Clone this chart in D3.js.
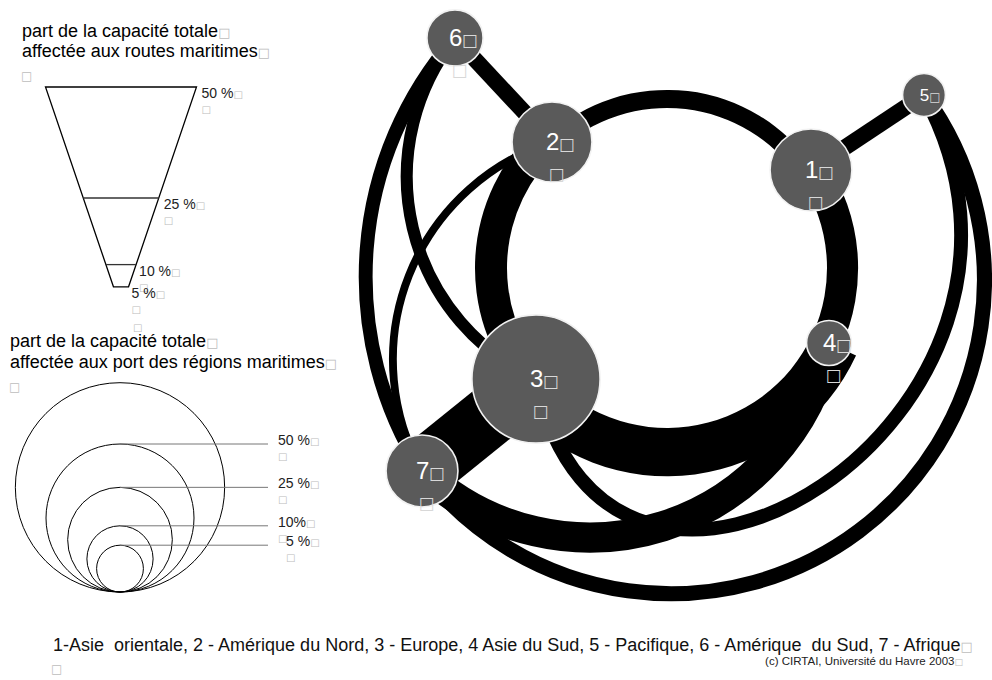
<!DOCTYPE html>
<html>
<head>
<meta charset="utf-8">
<script src="https://cdn.jsdelivr.net/npm/d3@7"></script>
<style>
  body { margin: 0; background: #fff; }
  text { font-family: "Liberation Sans", Arial, sans-serif; white-space: pre; }
  .box { fill: #bdbdbd; font-family: "DejaVu Sans", sans-serif; }
</style>
</head>
<body>
<svg id="chart" width="992" height="680"></svg>
<script>
// regions (ports) : share of the total capacity, in %
var regionIds = [1, 2, 3, 4, 5, 6, 7];
var regionNames = ["Asie  orientale", "Amérique du Nord", "Europe", "Asie du Sud", "Pacifique", "Amérique  du Sud", "Afrique"];
var portShare = [15.3, 14.6, 37.5, 4.6, 4.2, 7.2, 11.8];

// maritime routes : share of the total capacity, in %
var routeFrom  = [2, 1, 4, 3, 6, 1, 3, 7, 6, 6, 2, 7, 3];
var routeTo    = [1, 4, 3, 2, 2, 5, 7, 4, 7, 3, 7, 5, 5];
var routeShare = [6, 10.3, 16, 10.6, 5.3, 5.3, 20, 10, 4.6, 4, 2.6, 5, 4.6];

// legend steps
var routeSteps = [50, 25, 10, 5];
var routeStepLabels = ["50 %", "25 %", "10 %", "5 %"];
var portSteps = [100, 50, 25, 10, 5];
var portStepLabels = [null, "50 %", "25 %", "10%", "5 %"];

// ---- layout (positions of the regions on the sketch, shape of each route)
var nodeXY = {1: [811, 170], 2: [552, 142], 3: [536, 379], 4: [829, 343],
              5: [924, 95], 6: [455, 38], 7: [422, 471]};
var ring = {cx: 667, cy: 268, inner: 160};
var routeShape = {
  "2-1": {type: "ring"}, "1-4": {type: "ring"}, "4-3": {type: "ring"}, "3-2": {type: "ring"},
  "6-2": {type: "line"}, "1-5": {type: "line"}, "3-7": {type: "line"},
  "7-4": {type: "arc", bulge: 125},
  "6-7": {type: "arc", bulge: 72},
  "6-3": {type: "arc", bulge: 85},
  "2-7": {type: "arc", bulge: 84},
  "7-5": {type: "arc", bulge: 310},
  "3-5": {type: "cubic", ctrl: [-0.3, 320, 0.9, 360]}
};

var svg = d3.select("#chart");

var routeWidth = d3.scaleLinear().domain([0, 50]).range([0, 151]);
var portRadius = d3.scaleSqrt().domain([0, 50]).range([0, 74]);

function boxSpan(t, size) {
  t.append("tspan").attr("class", "box").style("font-size", size + "px").text("\u25A1");
}

// ---------- legend 1 : routes
var leg1 = svg.append("g");
leg1.append("text").attr("x", 22).attr("y", 37).style("font-size", "18px").text("part de la capacité totale")
  .call(boxSpan, 13);
leg1.append("text").attr("x", 22).attr("y", 57).style("font-size", "18px").text("affectée aux routes maritimes")
  .call(boxSpan, 13);
leg1.append("text").attr("x", 21).attr("y", 80).attr("class", "box").style("font-size", "12px").text("\u25A1");

var trapX = 121;
var trapY = d3.scaleLinear().domain([0, 50]).range([309, 87]);
var stepHi = routeSteps[0], stepLo = routeSteps[routeSteps.length - 1];
var trapPts = [
  [trapX - routeWidth(stepHi) / 2, trapY(stepHi)], [trapX + routeWidth(stepHi) / 2, trapY(stepHi)],
  [trapX + routeWidth(stepLo) / 2, trapY(stepLo)], [trapX - routeWidth(stepLo) / 2, trapY(stepLo)]
];
leg1.append("path")
  .attr("d", d3.line()(trapPts) + "Z")
  .attr("fill", "none").attr("stroke", "#000").attr("stroke-width", 1.3);

routeSteps.forEach(function(v, i) {
  var y = trapY(v), w = routeWidth(v);
  if (i > 0 && i < routeSteps.length - 1) {
    leg1.append("line")
      .attr("x1", trapX - w / 2).attr("x2", trapX + w / 2)
      .attr("y1", y).attr("y2", y)
      .attr("stroke", "#333").attr("stroke-width", 1.3);
  }
  var lx = trapX + w / 2 + (v >= 25 ? 5 : 3);
  var t = leg1.append("text").attr("x", lx).attr("y", y + 11).style("font-size", "14px")
    .attr("fill", "#222").text(routeStepLabels[i]);
  boxSpan(t, 10);
  leg1.append("text").attr("x", lx).attr("y", y + 26).attr("class", "box").style("font-size", "10px").text("\u25A1");
});

// ---------- legend 2 : ports
var leg2 = svg.append("g");
leg2.append("text").attr("x", 133).attr("y", 331).attr("class", "box").style("font-size", "10px").text("\u25A1");
leg2.append("text").attr("x", 10).attr("y", 347).style("font-size", "18px").text("part de la capacité totale")
  .call(boxSpan, 13);
leg2.append("text").attr("x", 10).attr("y", 368).style("font-size", "18px").text("affectée aux port des régions maritimes")
  .call(boxSpan, 13);
leg2.append("text").attr("x", 9).attr("y", 391).attr("class", "box").style("font-size", "12px").text("\u25A1");

var circX = 120, circBase = 592;
leg2.selectAll("circle")
  .data(portSteps)
  .enter().append("circle")
  .attr("cx", circX)
  .attr("cy", function(d) { return circBase - portRadius(d); })
  .attr("r", function(d) { return portRadius(d); })
  .attr("fill", "none").attr("stroke", "#000").attr("stroke-width", 1);

portSteps.forEach(function(v, i) {
  if (!portStepLabels[i]) return;
  var y = circBase - 2 * portRadius(v);
  leg2.append("line")
    .attr("x1", circX).attr("x2", 268).attr("y1", y).attr("y2", y)
    .attr("stroke", "#777").attr("stroke-width", 1);
  var lx = v === 5 ? 286 : 278;
  var t = leg2.append("text").attr("x", lx).attr("y", y + 1).style("font-size", "14px")
    .attr("fill", "#222").text(portStepLabels[i]);
  boxSpan(t, 10);
  leg2.append("text").attr("x", lx).attr("y", y + 16).attr("class", "box").style("font-size", "10px").text("\u25A1");
});

// ---------- routes
var routes = routeFrom.map(function(f, i) {
  return {from: f, to: routeTo[i], share: routeShare[i], shape: routeShape[f + "-" + routeTo[i]]};
});

function angleOf(id) {
  var p = nodeXY[id];
  return Math.atan2(p[0] - ring.cx, -(p[1] - ring.cy));
}

// circular arc from s to t bulging by h pixels (to the left of s->t when h > 0)
function arcPath(s, t, h) {
  var dx = t[0] - s[0], dy = t[1] - s[1], L = Math.sqrt(dx * dx + dy * dy);
  var R = (L * L / 4 + h * h) / (2 * Math.abs(h));
  var large = Math.abs(h) > L / 2 ? 1 : 0;
  var sweep = h > 0 ? 0 : 1;
  return "M" + s[0] + "," + s[1] + "A" + R + "," + R + " 0 " + large + " " + sweep + " " + t[0] + "," + t[1];
}

function cubicPath(s, t, c) {
  var dx = t[0] - s[0], dy = t[1] - s[1], L = Math.sqrt(dx * dx + dy * dy);
  var nx = -dy / L, ny = dx / L;
  var p = d3.path();
  p.moveTo(s[0], s[1]);
  p.bezierCurveTo(s[0] + dx * c[0] + nx * c[1], s[1] + dy * c[0] + ny * c[1],
                  s[0] + dx * c[2] + nx * c[3], s[1] + dy * c[2] + ny * c[3],
                  t[0], t[1]);
  return p.toString();
}

var gRoutes = svg.append("g");
var ringArc = d3.arc();

routes.forEach(function(r) {
  var w = routeWidth(r.share);
  var s = nodeXY[r.from], t = nodeXY[r.to];
  if (r.shape.type === "ring") {
    var a0 = angleOf(r.from), a1 = angleOf(r.to);
    while (a1 < a0) a1 += 2 * Math.PI;
    gRoutes.append("path")
      .attr("transform", "translate(" + ring.cx + "," + ring.cy + ")")
      .attr("d", ringArc({innerRadius: ring.inner, outerRadius: ring.inner + w, startAngle: a0, endAngle: a1}))
      .attr("fill", "#000");
  } else {
    var d;
    if (r.shape.type === "line") d = d3.line()([s, t]);
    else if (r.shape.type === "arc") d = arcPath(s, t, r.shape.bulge);
    else d = cubicPath(s, t, r.shape.ctrl);
    gRoutes.append("path")
      .attr("d", d)
      .attr("fill", "none").attr("stroke", "#000")
      .attr("stroke-width", w).attr("stroke-linecap", "butt");
  }
});

// ---------- regions
var gNodes = svg.append("g");
regionIds.forEach(function(id, i) {
  var p = nodeXY[id], r = portRadius(portShare[i]);
  var fs = r < 22 ? 17 : 24;
  var g = gNodes.append("g").attr("transform", "translate(" + p[0] + "," + p[1] + ")");
  g.append("circle").attr("r", r)
    .attr("fill", "#5a5a5a").attr("stroke", "#f2f2f2").attr("stroke-width", 1.6);
  var t = g.append("text").attr("x", -fs * 0.25).attr("y", fs * 0.33)
    .attr("fill", "#fff").style("font-size", fs + "px").text(id);
  t.append("tspan").attr("class", "box").style("fill", "#d8d8d8")
    .style("font-size", (fs * 0.7) + "px").text("\u25A1");
  if (fs > 17) {
    g.append("text").attr("x", -3).attr("y", fs * 0.33 + 30).attr("class", "box")
      .style("fill", "#d8d8d8").style("font-size", (fs * 0.7) + "px").text("\u25A1");
  }
});

// ---------- footer
var names = regionIds.map(function(id, i) {
  var sep = id === 1 ? "-" : (id === 4 ? " " : " - ");
  return id + sep + regionNames[i];
}).join(", ");
svg.append("text").attr("x", 53).attr("y", 651).style("font-size", "18px").attr("fill", "#111")
  .text(names).call(boxSpan, 13);
svg.append("text").attr("x", 51).attr("y", 673).attr("class", "box").style("font-size", "12px").text("\u25A1");
svg.append("text").attr("x", 963).attr("y", 665).attr("text-anchor", "end")
  .style("font-size", "11.5px").attr("fill", "#222")
  .text("(c) CIRTAI, Université du Havre 2003").call(boxSpan, 9);
</script>
</body>
</html>
